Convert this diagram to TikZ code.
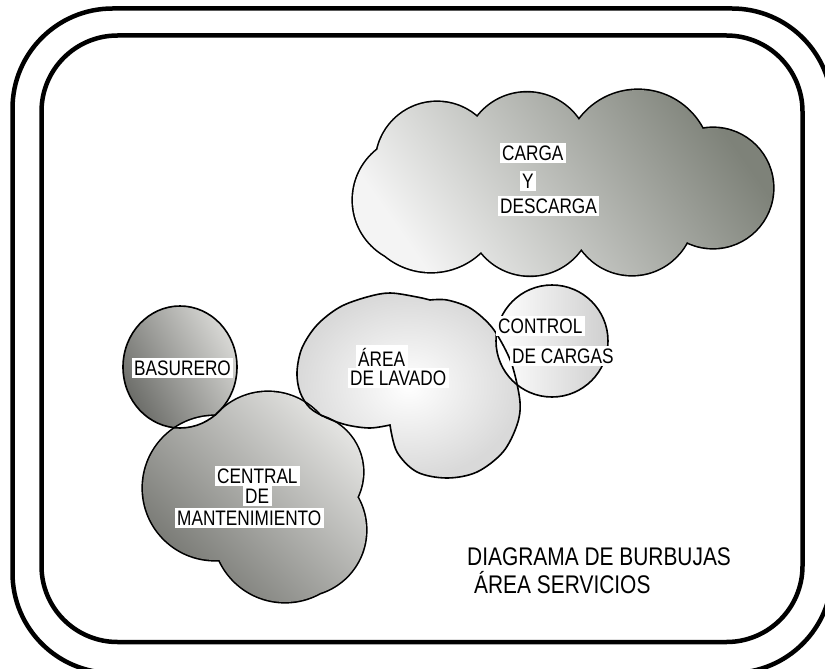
\documentclass[tikz,border=0pt]{standalone}
\usepackage{fontspec}
\setmainfont{Liberation Sans}[FakeStretch=0.82]
\definecolor{cargaDark}{HTML}{7E8279}
\definecolor{cargaMid}{HTML}{BDBEB9}
\definecolor{cargaLight}{HTML}{F4F4F4}
\definecolor{basuDark}{HTML}{6C6D69}
\definecolor{basuLight}{HTML}{D8D8D5}
\definecolor{centDark}{HTML}{747570}
\definecolor{centLight}{HTML}{E2E2E0}
\definecolor{lavEdge}{HTML}{D9D9D9}
\definecolor{ctrlEdge}{HTML}{CFCFCF}
\begin{document}
\begin{tikzpicture}[x=1pt,y=-1pt,
  frame/.style={line width=4.5pt},
  bubbleline/.style={line width=1.6pt},
  ring/.style={line width=3.2pt},
  lbl/.style={fill=white, inner xsep=2.5pt, inner ysep=2.5pt, anchor=base west, font=\fontsize{21}{21}\selectfont},
  titletext/.style={anchor=base west, inner sep=0pt, font=\fontsize{25.5}{25.5}\selectfont}]
\useasboundingbox (0,0) rectangle (825,669);
\def\cargapath{(417,200) circle (64) (437,163) circle (61) (527,155) circle (62.5) (638,163) circle (73) (713,188) circle (60) (632,213) circle (62) (530,213) circle (62.5) (431,200) circle (72)}
\def\centralpath{(215,488) circle (72) (268,461) circle (69) (305,472) circle (58) (300,530) circle (66) (285,530) circle (72)}
\def\basupath{(180,367) ellipse (57 and 61)}
\def\controlpath{(552,341) circle (56)}
\def\lavpath{plot[smooth,tension=.55] coordinates {(430,300) (447,300) (470,308) (490,325) (503,345) (513,368) (520,402) (517,425) (503,452) (477,472) (447,478) (417,472) (397,452) (390,425)} -- plot[smooth,tension=.55] coordinates {(390,425) (370,428) (347,425) (327,418) (310,408) (300,392) (297,372) (302,348) (317,325) (340,307) (367,297) (390,293) (417,297) (430,300)} -- cycle}
% frames
\draw[frame, rounded corners=100pt] (12.5,8.5) rectangle (832,673);
\draw[frame, rounded corners=76pt] (41.5,35.5) rectangle (802.5,642);
% carga y descarga
\draw[ring] \cargapath;
\shade[top color=cargaDark, middle color=cargaMid, bottom color=cargaLight, shading angle=-55] \cargapath;
% central
\draw[ring] \centralpath;
\shade[top color=centLight, bottom color=centDark, shading angle=-45] \centralpath;
% basurero
\shade[top color=basuLight, bottom color=basuDark, shading angle=-60] \basupath;
% lavado
\shade[inner color=white, outer color=lavEdge] \lavpath;
% control
\shade[left color=white, right color=ctrlEdge] \controlpath;
% overlaps
\begin{scope}
  \clip \basupath;
  \draw[ring] \centralpath;
  \fill[white] \centralpath;
\end{scope}
\draw[bubbleline] \basupath;
\begin{scope}
  \clip \lavpath;
  \draw[ring] \centralpath;
  \fill[white] \centralpath;
\end{scope}
\begin{scope}
  \clip \lavpath;
  \fill[white] \controlpath;
\end{scope}
\draw[bubbleline] \lavpath;
\draw[bubbleline] \controlpath;
% labels
\node[lbl] (carga) at (499.5,160) {CARGA};
\node[lbl] (y) at (519.5,188) {Y};
\node[lbl] (descarga) at (497.5,213) {DESCARGA};
\node[lbl] (basurero) at (131.5,375) {BASURERO};
\node[lbl] (area) at (355.5,366) {ÁREA};
\node[lbl] (lavado) at (347.5,385) {DE LAVADO};
\node[lbl] (control) at (495.5,333) {CONTROL};
\node[lbl] (cargas) at (509.5,363) {DE CARGAS};
\node[lbl] (central) at (214.5,483) {CENTRAL};
\node[lbl] (de) at (242.5,503) {DE};
\node[lbl] (mant) at (174.5,525) {MANTENIMIENTO};
\node[titletext] (titulo) at (467,565) {DIAGRAMA DE BURBUJAS};
\node[titletext] (subtitulo) at (474,593) {ÁREA SERVICIOS};
\end{tikzpicture}
\end{document}
